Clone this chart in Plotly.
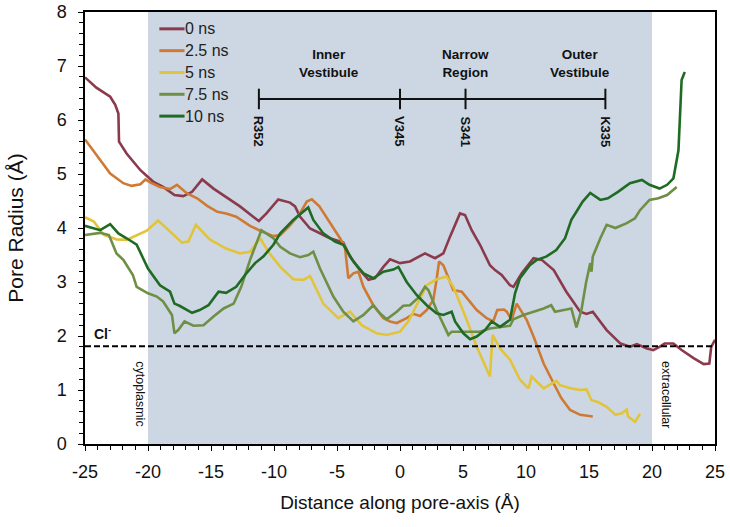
import plotly.graph_objects as go

# ---------------- data ----------------
x_0ns = [-25, -24.1, -23.0, -22.6, -22.35, -22.3, -21.7, -20.6, -19.6, -18.8, -17.9, -17.2, -16.5, -15.7, -14.8,
         -13.8, -12.7, -11.6, -11.2, -10.6, -9.66, -8.73, -8.33, -7.94, -7.54, -7.14, -6.6, -5.56, -4.5, -3.97,
         -3.17, -2.5, -1.98, -1.32, -0.79, 0, 0.79, 1.98, 2.78, 3.44, 3.97, 4.5, 4.76, 5.16, 5.69, 6.35, 7.14,
         7.54, 8.07, 8.73, 9.0, 9.66, 10.6, 11.25, 12.2, 13.2, 14.3, 14.8, 15.3, 16.4, 17.5, 18.25, 18.8, 19.6,
         20.1, 20.6, 21.0, 21.7, 22.35, 23.3, 24.1, 24.55, 24.7, 25]
y_0ns = [6.79, 6.6, 6.43, 6.28, 6.12, 5.6, 5.38, 5.07, 4.86, 4.76, 4.61, 4.59, 4.67, 4.9, 4.73,
         4.58, 4.4, 4.2, 4.13, 4.27, 4.53, 4.47, 4.4, 4.21, 4.1, 3.99, 3.93, 3.81, 3.73, 3.47,
         3.22, 3.04, 3.07, 3.28, 3.42, 3.35, 3.38, 3.53, 3.44, 3.53, 3.84, 4.15, 4.27, 4.24, 3.96, 3.69, 3.31,
         3.22, 3.13, 2.94, 2.91, 3.16, 3.44, 3.41, 3.22, 2.82, 2.45, 2.41, 2.45, 2.11, 1.86, 1.8, 1.85, 1.77,
         1.74, 1.8, 1.86, 1.86, 1.74, 1.59, 1.48, 1.49, 1.8, 1.93]

x_2p5ns = [-25, -24.1, -23.0, -21.96, -21.3, -20.6, -20.2, -19.8, -19.05, -18.25, -17.7, -16.9, -16.1, -15.3,
           -14.5, -13.8, -13.0, -11.9, -11.1, -10.05, -9.5, -8.73, -7.94, -7.4, -7.0, -6.4, -5.69, -4.76, -4.37,
           -4.1, -3.7, -3.3, -2.9, -2.12, -1.32, -0.79, -0.26, 0.53, 1.06, 1.59, 2.12, 2.65, 2.9, 3.1, 3.44,
           3.84, 4.23, 4.9, 5.42, 6.09, 6.88, 7.4, 7.72, 8.25, 8.47, 8.86, 9.26, 10.05, 10.6, 11.4, 12.2, 12.8,
           13.5, 14.3, 15.3]
y_2p5ns = [5.64, 5.35, 5.01, 4.83, 4.78, 4.81, 4.9, 4.84, 4.76, 4.72, 4.8, 4.64, 4.55, 4.41,
           4.3, 4.27, 4.21, 4.04, 3.95, 3.85, 3.87, 4.05, 4.27, 4.49, 4.53, 4.4, 4.15, 3.81, 3.65,
           3.07, 3.16, 3.19, 2.91, 2.57, 2.33, 2.27, 2.24, 2.33, 2.41, 2.37, 2.48, 2.67, 3.04, 3.38, 3.31,
           3.07, 2.85, 2.82, 2.67, 2.48, 2.33, 2.27, 2.48, 2.49, 2.45, 2.3, 2.6, 2.3, 1.99, 1.49, 1.12, 0.85,
           0.63, 0.54, 0.51]

x_5ns = [-25, -24.3, -23.5, -22.5, -21.7, -20.9, -20.1, -19.2, -18.0, -17.3, -16.8, -16.2, -15.1, -13.8, -12.7,
         -11.9, -11.1, -10.45, -9.5, -8.47, -7.67, -7.14, -6.09, -4.9, -3.97, -3.04, -1.85, -1.06, 0, 0.66,
         1.32, 2.12, 2.9, 3.7, 4.23, 5.29, 6.09, 7.14, 7.35, 7.94, 8.73, 9.52, 10.2, 10.45, 11.4, 12.4, 12.7,
         13.6, 14.3, 14.8, 15.2, 15.7, 16.4, 17.1, 17.6, 18.0, 18.1, 18.65, 19.05]
y_5ns = [4.2, 4.12, 3.87, 3.79, 3.78, 3.87, 3.95, 4.14, 3.87, 3.73, 3.75, 4.06, 3.79, 3.62, 3.53,
         3.56, 3.81, 3.56, 3.28, 3.05, 3.04, 3.11, 2.6, 2.33, 2.45, 2.2, 2.05, 2.02, 2.08, 2.27,
         2.57, 2.94, 3.05, 3.1, 2.91, 2.3, 1.8, 1.25, 2.02, 1.77, 1.56, 1.19, 1.03, 1.25, 1.03, 1.17, 1.09,
         1.03, 1.0, 1.01, 0.81, 0.78, 0.69, 0.54, 0.57, 0.64, 0.51, 0.41, 0.56]

x_7p5ns = [-25, -23.8, -23.1, -22.5, -21.96, -21.2, -20.9, -20.0, -19.3, -18.8, -18.1, -17.9, -17.6, -17.1,
           -16.4, -15.6, -14.8, -14.0, -13.2, -12.6, -11.9, -11.0, -10.05, -9.5, -8.73, -7.94, -7.28, -6.88,
           -6.35, -5.29, -4.5, -3.7, -2.9, -2.12, -1.59, -1.06, -0.26, 0.26, 0.79, 1.45, 1.98, 2.25, 2.9, 3.7,
           3.84, 4.1, 5.29, 6.35, 7.14, 7.94, 8.73, 9.0, 9.79, 10.6, 11.4, 12.0, 12.3, 13.2, 13.6, 14.0, 14.4,
           14.76, 15.1, 15.2, 15.3, 15.9, 16.4, 17.1, 18.0, 18.65, 19.05, 19.8, 20.5, 21.2, 21.96]
y_7p5ns = [3.87, 3.91, 3.87, 3.53, 3.41, 3.13, 2.91, 2.79, 2.73, 2.64, 2.39, 2.05, 2.11, 2.27,
           2.19, 2.2, 2.36, 2.51, 2.6, 2.91, 3.41, 3.96, 3.81, 3.65, 3.53, 3.46, 3.5, 3.56,
           3.25, 2.73, 2.45, 2.27, 2.39, 2.57, 2.42, 2.31, 2.45, 2.56, 2.57, 2.71, 2.91, 2.85, 2.48, 2.11,
           2.02, 2.08, 2.08, 2.08, 2.14, 2.17, 2.19, 2.31, 2.39, 2.45, 2.51, 2.57, 2.45, 2.49, 2.51, 2.16, 2.48,
           2.98, 3.35, 3.19, 3.47, 3.81, 4.06, 4.0, 4.09, 4.18, 4.33, 4.52, 4.55, 4.61, 4.76]

x_10ns = [-25, -23.8, -23.0, -22.35, -21.7, -20.9, -20.0, -19.05, -18.25, -17.9, -17.5, -16.5, -15.9, -15.2,
          -14.4, -13.8, -13.0, -12.3, -11.5, -10.85, -10.05, -9.5, -8.47, -7.28, -6.88, -6.09, -5.16, -4.5,
          -3.7, -2.9, -2.12, -1.32, -0.53, -0.13, 0.53, 1.32, 2.12, 2.9, 3.44, 4.1, 4.37, 5.03, 5.56, 6.09,
          6.75, 7.28, 7.94, 8.73, 9.13, 9.52, 10.3, 10.85, 11.6, 12.4, 13.1, 13.6, 14.0, 14.5, 15.1, 15.9,
          16.5, 17.3, 18.25, 19.2, 19.8, 20.6, 21.2, 21.7, 22.1, 22.35, 22.6]
y_10ns = [4.04, 3.96, 4.07, 3.9, 3.81, 3.69, 3.25, 2.94, 2.82, 2.6, 2.56, 2.43, 2.48, 2.57,
          2.82, 2.8, 2.91, 3.13, 3.35, 3.47, 3.69, 3.9, 4.15, 4.38, 4.15, 3.9, 3.75, 3.69,
          3.38, 3.16, 3.07, 3.19, 3.23, 3.28, 3.0, 2.76, 2.57, 2.42, 2.39, 2.45, 2.27, 2.05, 1.94, 1.99,
          2.11, 2.27, 2.17, 2.3, 2.79, 3.07, 3.31, 3.41, 3.47, 3.59, 3.81, 4.15, 4.3, 4.49, 4.65, 4.52,
          4.55, 4.67, 4.83, 4.89, 4.8, 4.73, 4.8, 4.92, 5.44, 6.74, 6.89]

series_names = ["0 ns", "2.5 ns", "5 ns", "7.5 ns", "10 ns"]
series_colors = ["#8b3a4c", "#cf7a34", "#e2c43a", "#6f8f45", "#1f6b24"]

# pore regions & residues
membrane_range = [-20, 20]
cl_radius = 1.81
residue_names = ["R352", "V345", "S341", "K335"]
residue_pos = [-11.2, 0.0, 5.2, 16.3]
bracket_y = 6.39
region_names = ["Inner<br>Vestibule", "Narrow<br>Region", "Outer<br>Vestibule"]
region_pos = [-5.6, 5.2, 14.3]

x_ticks = [-25, -20, -15, -10, -5, 0, 5, 10, 15, 20, 25]
y_ticks = [0, 1, 2, 3, 4, 5, 6, 7, 8]

FONT = "Liberation Sans, Arial"

# ---------------- figure ----------------
fig = go.Figure()
all_x = [x_0ns, x_2p5ns, x_5ns, x_7p5ns, x_10ns]
all_y = [y_0ns, y_2p5ns, y_5ns, y_7p5ns, y_10ns]
for xs, ys, name, col in zip(all_x, all_y, series_names, series_colors):
    fig.add_trace(go.Scatter(x=xs, y=ys, mode="lines", name=name, showlegend=False,
                             line=dict(color=col, width=2.6)))

# legend (drawn inside the plot, in paper coordinates)
leg_line_x = (0.118, 0.158)
leg_text_x = 0.155
leg_top_y = 0.961
leg_step = 0.0505
for i, (name, col) in enumerate(zip(series_names, series_colors)):
    yy = leg_top_y - i * leg_step
    fig.add_shape(type="line", xref="paper", yref="paper", x0=leg_line_x[0], x1=leg_line_x[1],
                  y0=yy, y1=yy, line=dict(color=col, width=3))
    fig.add_annotation(x=leg_text_x, y=yy, xref="paper", yref="paper", text=name, showarrow=False,
                       xanchor="left", yanchor="middle",
                       font=dict(family=FONT, size=16, color="#222"))

# shaded pore region
fig.add_shape(type="rect", xref="x", yref="y", x0=membrane_range[0], x1=membrane_range[1],
              y0=0, y1=8, fillcolor="#cdd7e4", line=dict(width=0), layer="below")
# Cl- radius line
fig.add_shape(type="line", xref="paper", yref="y", x0=0, x1=1, y0=cl_radius, y1=cl_radius,
              line=dict(color="black", width=1.8, dash="6px,3px"))
# bracket
fig.add_shape(type="line", xref="x", yref="y", x0=residue_pos[0], x1=residue_pos[-1],
              y0=bracket_y, y1=bracket_y, line=dict(color="#111", width=2))
for rx, rn in zip(residue_pos, residue_names):
    fig.add_shape(type="line", xref="x", yref="y", x0=rx, x1=rx, y0=bracket_y - 0.19,
                  y1=bracket_y + 0.19, line=dict(color="#111", width=2))
    fig.add_annotation(x=rx, y=bracket_y - 0.28, xref="x", yref="y", text="<b>%s</b>" % rn,
                       textangle=90, showarrow=False, yanchor="top",
                       font=dict(family=FONT, size=13, color="#111"))
for rx, rn in zip(region_pos, region_names):
    fig.add_annotation(x=rx, y=7.05, xref="x", yref="y", text="<b>%s</b>" % rn,
                       showarrow=False, align="center",
                       font=dict(family=FONT, size=13.5, color="#111"))

fig.add_annotation(x=-23.6, y=2.05, xref="x", yref="y", text="<b>Cl<sup>-</sup></b>",
                   showarrow=False, font=dict(family=FONT, size=14, color="#111"))
fig.add_annotation(x=-20.6, y=0.93, xref="x", yref="y", text="cytoplasmic", textangle=90,
                   showarrow=False, font=dict(family=FONT, size=12.5, color="#111"))
fig.add_annotation(x=21.05, y=0.92, xref="x", yref="y", text="extracellular", textangle=90,
                   showarrow=False, font=dict(family=FONT, size=12.5, color="#111"))

axis_common = dict(showline=True, linecolor="black", linewidth=1.5, mirror=True, automargin=False,
                   showgrid=False, zeroline=False, ticks="outside", ticklen=5, tickwidth=1.3,
                   tickcolor="black", ticklabeloverflow="allow",
                   tickfont=dict(family=FONT, size=18, color="#111"))

fig.update_xaxes(range=[-25, 25], tickvals=x_ticks, ticktext=[str(v) for v in x_ticks],
                 ticklabelstandoff=6, **axis_common,
                 minor=dict(dtick=1, ticks="outside", ticklen=4, tickcolor="black", tickwidth=1.2),
                 title=dict(text="Distance along pore-axis (Å)", standoff=14,
                            font=dict(family=FONT, size=19, color="#111")))
fig.update_yaxes(range=[0, 8], tickvals=y_ticks, ticktext=[str(v) for v in y_ticks],
                 ticklabelstandoff=8, **axis_common,
                 minor=dict(dtick=0.2, ticks="outside", ticklen=4, tickcolor="black", tickwidth=1.2),
                 title=dict(text="Pore Radius (Å)", standoff=27,
                            font=dict(family=FONT, size=21, color="#111")))

fig.update_layout(
    width=730, height=527,
    margin=dict(l=85, r=15, t=12, b=83),
    paper_bgcolor="white", plot_bgcolor="white",
    showlegend=False,
)

# remove the default 8px page margin so the figure fills the window exactly
fig.write_html("out.html", config={"displayModeBar": False},
               post_script="document.body.style.margin='0';")
